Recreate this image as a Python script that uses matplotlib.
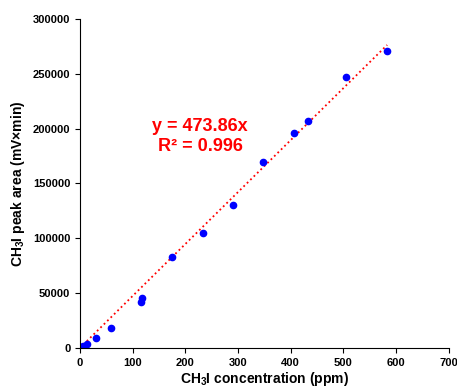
import numpy as np
import matplotlib.pyplot as plt

plt.rcParams['font.family'] = ['Liberation Sans', 'DejaVu Sans']
plt.rcParams['mathtext.fontset'] = 'custom'
plt.rcParams['mathtext.rm'] = 'Liberation Sans:bold'
plt.rcParams['mathtext.bf'] = 'Liberation Sans:bold'

# concentration (ppm) and peak area (mV x min)
conc = [0, 1, 6, 13, 30, 59, 116, 117, 175, 234, 290, 348, 407, 433, 504, 583]
area = [0, 600, 1800, 3600, 9100, 18500, 42200, 45600, 82700, 105100,
        130600, 169300, 196000, 206600, 247000, 270700]
slope = 473.86
r2 = 0.996

fig = plt.figure(figsize=(4.57, 3.87), dpi=100)
ax = fig.add_axes([0.175, 0.101, 0.807, 0.850])

xfit = np.array([0, max(conc)])
ax.plot(xfit, slope * xfit, color='red', linestyle=':', linewidth=1.3, zorder=1)
ax.plot(conc, area, 'o', color='blue', markersize=4.5, zorder=2)

ax.set_xlim(0, 700)
ax.set_ylim(0, 300000)
ax.set_xticks(np.arange(0, 701, 100))
ax.set_yticks(np.arange(0, 300001, 50000))
ax.spines['top'].set_visible(False)
ax.spines['right'].set_visible(False)
ax.tick_params(direction='out', length=3.5, labelsize=8)
for lab in ax.get_xticklabels() + ax.get_yticklabels():
    lab.set_fontweight('bold')

ax.set_xlabel(r'CH$_3$I concentration (ppm)', fontsize=10, fontweight='bold', labelpad=2)
ax.set_ylabel(r'CH$_3$I peak area (mV×min)', fontsize=10, fontweight='bold', labelpad=4)

ax.text(228, 193000, f'y = {slope}x\nR² = {r2}', color='red', fontsize=13,
        fontweight='bold', ha='center', va='center', linespacing=1.2)

fig.savefig('out.png', dpi=100)
